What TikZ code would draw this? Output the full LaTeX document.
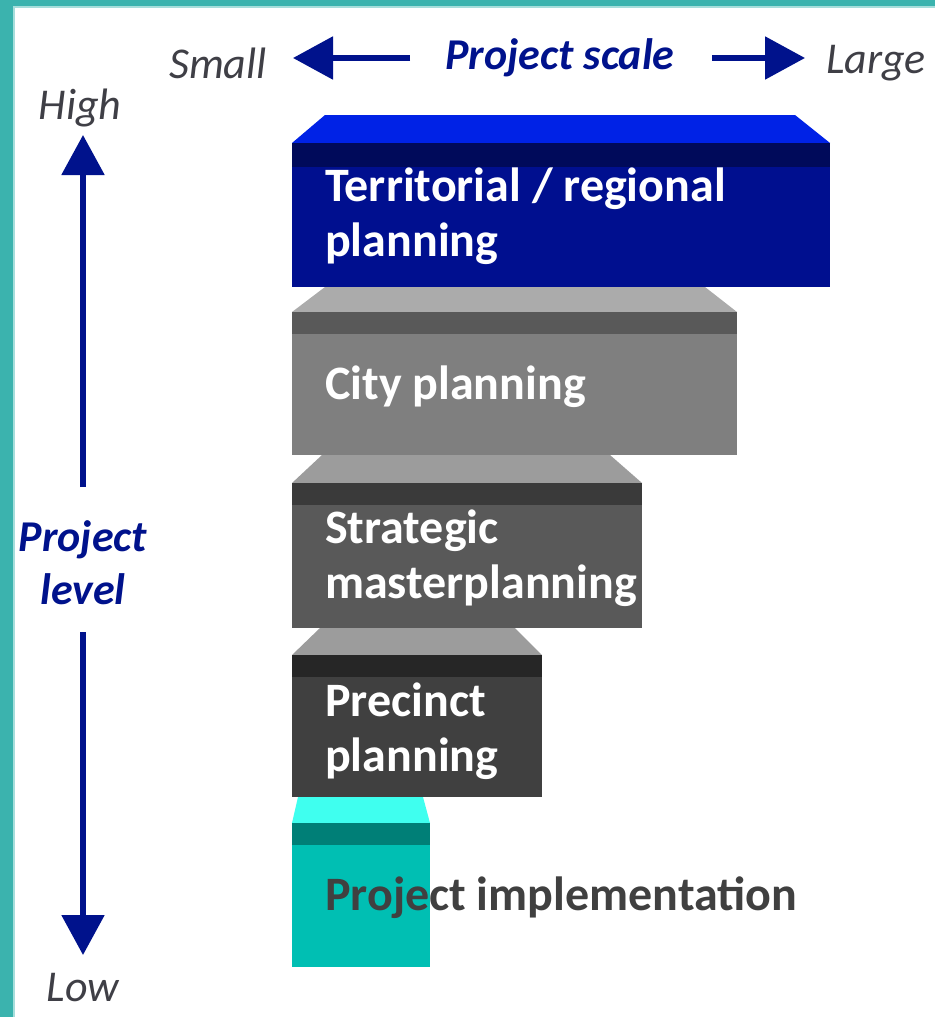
\documentclass[tikz,border=0pt]{standalone}
\usepackage{fontspec}
\setmainfont{Carlito}
\usetikzlibrary{arrows.meta}
\definecolor{frameTeal}{HTML}{3BB3AE}
\definecolor{frameLight}{HTML}{A6DEDB}
\definecolor{navyC}{HTML}{00128C}
\definecolor{labGray}{HTML}{3F3F46}
\definecolor{blueTop}{HTML}{0022E6}
\definecolor{blueMain}{HTML}{000F8F}
\definecolor{blueBand}{HTML}{000A5A}
\definecolor{gA}{HTML}{7F7F7F}
\definecolor{gAband}{HTML}{595959}
\definecolor{gAtop}{HTML}{ABABAB}
\definecolor{gB}{HTML}{595959}
\definecolor{gBband}{HTML}{3A3A3A}
\definecolor{gBtop}{HTML}{9C9C9C}
\definecolor{gC}{HTML}{404040}
\definecolor{gCband}{HTML}{262626}
\definecolor{gCtop}{HTML}{9C9C9C}
\definecolor{tMain}{HTML}{00BFB3}
\definecolor{tBand}{HTML}{007F77}
\definecolor{tTop}{HTML}{3FFFEF}
\begin{document}
\begin{tikzpicture}[x=1pt,y=-1pt,
  boxtext/.style={font=\fontsize{48}{55}\selectfont\bfseries, text=white, anchor=west, inner sep=0pt, align=left},
  axislab/.style={font=\fontsize{44}{50}\selectfont\itshape, text=labGray, inner sep=0pt},
  navylab/.style={font=\fontsize{44}{53}\selectfont\bfseries\itshape, text=navyC, inner sep=0pt, align=center},
  navyarrow/.style={draw=navyC, line width=5.5pt, -{Triangle[width=42pt,length=40pt]}}]
\useasboundingbox (0,0) rectangle (935,1017);
% frame
\fill[frameTeal] (0,0) rectangle (13,1017);
\fill[frameTeal] (0,0) rectangle (935,6);
\fill[frameLight] (13,6) rectangle (15,1017);
\fill[frameLight] (13,6) rectangle (935,8);

% blue tier
\fill[blueTop] (292,143) -- (325,115) -- (795,115) -- (830,143) -- cycle;
\fill[blueMain] (292,143) rectangle (830,287);
\fill[blueBand] (292,143) rectangle (830,167);
\node[boxtext] (terr) at (325,216) {Territorial / regional\\planning};

% city tier
\fill[gAtop] (292,312) -- (325,287) -- (705,287) -- (737,312) -- cycle;
\fill[gA] (292,312) rectangle (737,455);
\fill[gAband] (292,312) rectangle (737,334);
\node[boxtext] (city) at (325,387) {City planning};

% strategic tier
\fill[gBtop] (292,483) -- (322,455) -- (610,455) -- (642,483) -- cycle;
\fill[gB] (292,483) rectangle (642,628);
\fill[gBband] (292,483) rectangle (642,505);
\node[boxtext] (strat) at (325,558) {Strategic\\masterplanning};

% precinct tier
\fill[gCtop] (292,655) -- (320,628) -- (515,628) -- (542,655) -- cycle;
\fill[gC] (292,655) rectangle (542,797);
\fill[gCband] (292,655) rectangle (542,677);
\node[boxtext] (prec) at (325,731) {Precinct\\planning};

% implementation tier
\fill[tTop] (292,823) -- (298,797) -- (423,797) -- (430,823) -- cycle;
\fill[tMain] (292,823) rectangle (430,967);
\fill[tBand] (292,823) rectangle (430,845);
\node[boxtext, text=gC] (impl) at (325,898) {Project implementation};

% horizontal axis
\node[axislab] (small) at (218,63) {Small};
\node[axislab] (large) at (876,63) {Large};
\node[navylab] (pscale) at (560,58) {Project scale};
\coordinate (lStart) at (410,58);
\coordinate (lTip) at (293,58);
\coordinate (rStart) at (712,58);
\coordinate (rTip) at (805,58);
\draw[navyarrow] (lStart) -- (lTip);
\draw[navyarrow] (rStart) -- (rTip);

% vertical axis
\node[axislab] (high) at (80,108) {High};
\node[axislab, anchor=base] (low) at (83,1001) {Low};
\node[navylab] (plevel) at (83,563) {Project\\level};
\coordinate (uStart) at (83,487);
\coordinate (uTip) at (83,135);
\coordinate (dStart) at (83,632);
\coordinate (dTip) at (83,955);
\draw[navyarrow] (uStart) -- (uTip);
\draw[navyarrow] (dStart) -- (dTip);
\end{tikzpicture}
\end{document}
